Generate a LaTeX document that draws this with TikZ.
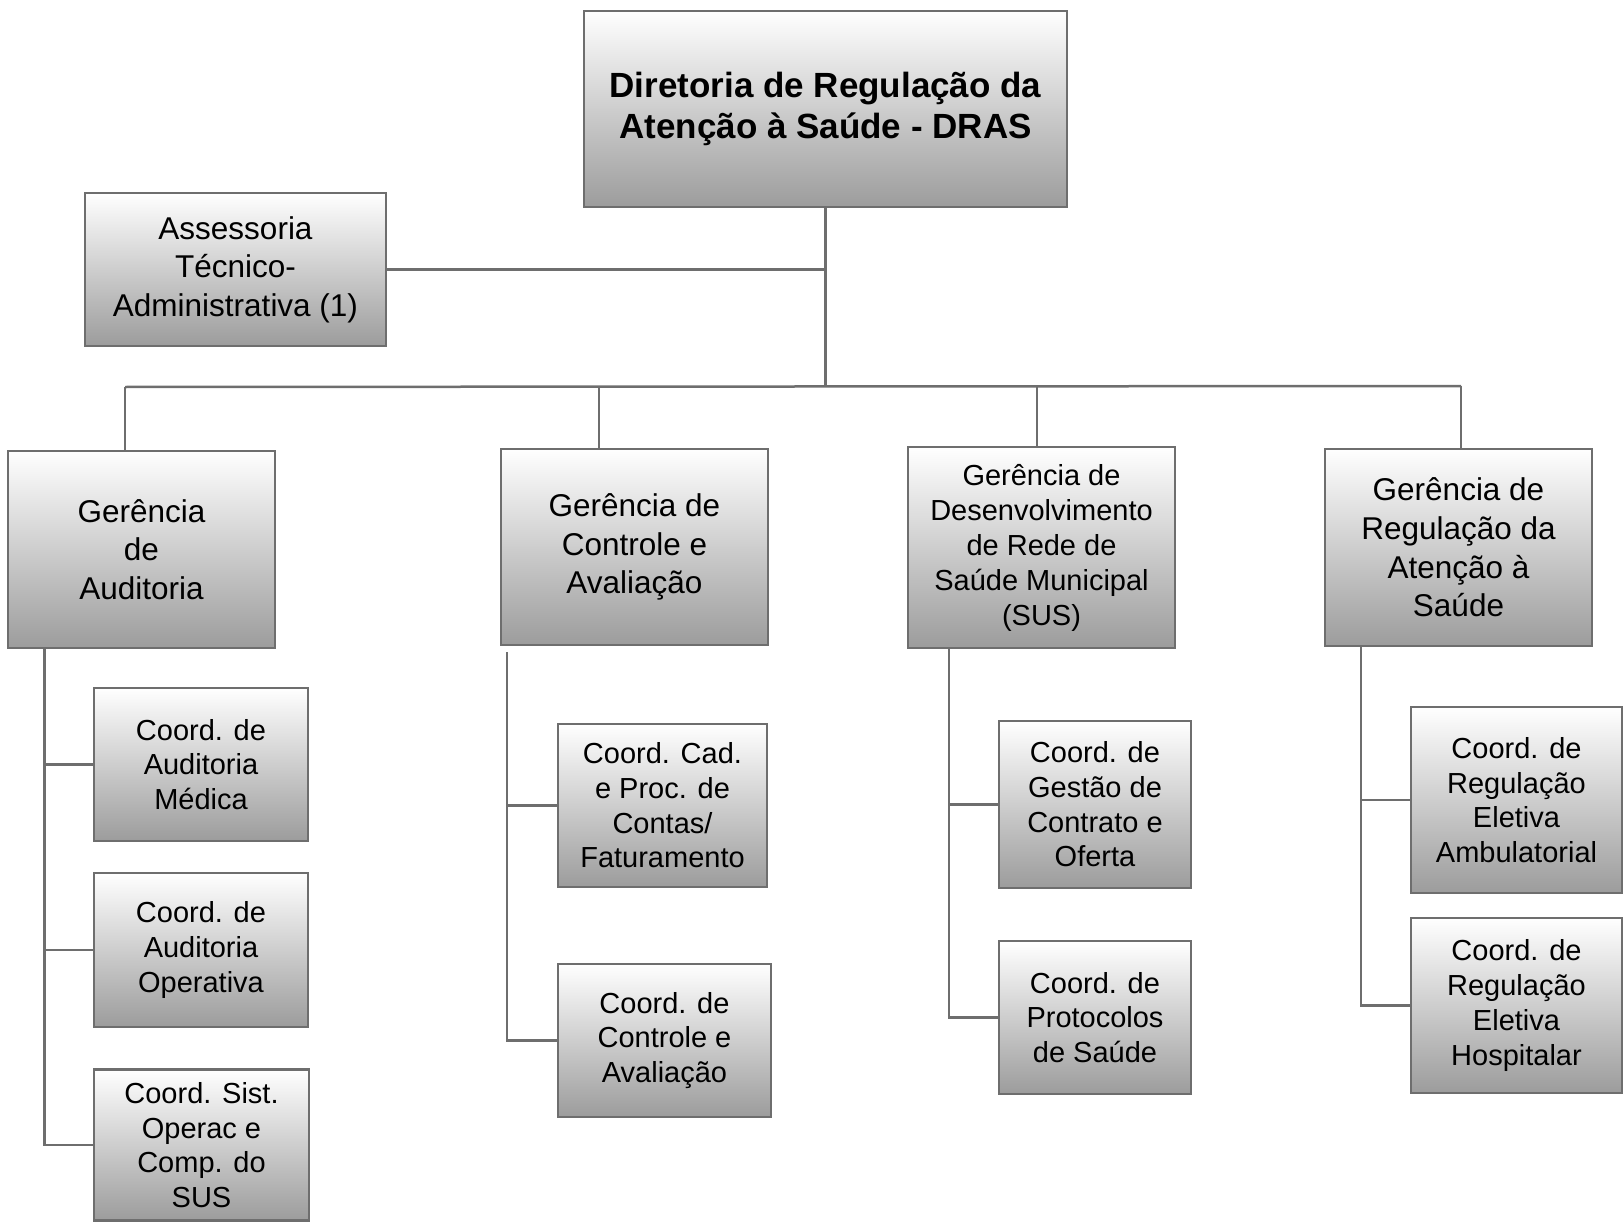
\documentclass[tikz,border=0pt]{standalone}
\usepackage{fontspec}
\setmainfont{Liberation Sans}
\definecolor{edge}{HTML}{6E6E6E}
\definecolor{boxbot}{HTML}{9C9C9C}
\tikzset{
  orgbox/.style={draw=edge, line width=2.5pt, top color=white, bottom color=boxbot,
     inner sep=0pt, align=center, text=black},
  lvlA/.style={orgbox, font=\fontsize{35}{41}\selectfont\bfseries},
  lvlB/.style={orgbox, font=\fontsize{31.5}{38.6}\selectfont},
  lvlBs/.style={orgbox, font=\fontsize{29}{35}\selectfont},
  lvlC/.style={orgbox, font=\fontsize{29}{34.7}\selectfont},
  wire/.style={draw=edge, line width=2.5pt}
}
\newcommand{\bx}[6]{\node[#1, minimum width=#4pt, minimum height=#5pt] (#2) at #3 {#6};}
\begin{document}
\begin{tikzpicture}[x=1pt,y=-1pt]
\useasboundingbox (0,0) rectangle (1623,1225);
\bx{lvlA}{dras}{(825.5,109)}{483}{196}{Diretoria de Regulação da\\Atenção à Saúde - DRAS}
\bx{lvlB}{ass}{(235.5,269.5)}{301}{153}{Assessoria\\Técnico-\\Administrativa (1)}
\bx{lvlB}{ga}{(141.5,549.5)}{267}{197}{Gerência\\de\\Auditoria}
\bx{lvlB}{gc}{(634.5,547)}{267}{196}{Gerência de\\Controle e\\Avaliação}
\bx{lvlBs}{gd}{(1041.5,547.5)}{267}{201}{Gerência de\\Desenvolvimento\\de Rede de\\Saúde Municipal\\(SUS)}
\bx{lvlB}{gr}{(1458.5,547.5)}{267}{197}{Gerência de\\Regulação da\\Atenção à\\Saúde}
\bx{lvlC}{c11}{(201,764.5)}{214}{153}{Coord. de\\Auditoria\\Médica}
\bx{lvlC}{c12}{(201,950)}{214}{154}{Coord. de\\Auditoria\\Operativa}
\bx{lvlC}{c13}{(201.5,1145)}{215}{151}{Coord. Sist.\\Operac e\\Comp. do\\SUS}
\bx{lvlC}{c21}{(662.5,805.5)}{209}{163}{Coord. Cad.\\e Proc. de\\Contas/\\Faturamento}
\bx{lvlC}{c22}{(664.5,1040.5)}{213}{153}{Coord. de\\Controle e\\Avaliação}
\bx{lvlC}{c31}{(1095,804.5)}{192}{167}{Coord. de\\Gestão de\\Contrato e\\Oferta}
\bx{lvlC}{c32}{(1095,1017.5)}{192}{153}{Coord. de\\Protocolos\\de Saúde}
\bx{lvlC}{c41}{(1516.5,800)}{211}{186}{Coord. de\\Regulação\\Eletiva\\Ambulatorial}
\bx{lvlC}{c42}{(1516.5,1005.5)}{211}{175}{Coord. de\\Regulação\\Eletiva\\Hospitalar}
% bus
\coordinate (busL) at (125,387);
\coordinate (busR) at (1461,386);
\coordinate (dB) at (599,387);
\coordinate (dC) at (1037,386);
\path[wire] (dras.south) -- (dras.south |- busL);
\path[wire] (ass.east) -- (ass.east -| dras.south);
\path[wire] (busL) -- (busR);
\path[wire] (busL) -- (busL |- ga.north);
\path[wire] (dB) -- (dB |- gc.north);
\path[wire] (dC) -- (dC |- gd.north);
\path[wire] (busR) -- (busR |- gr.north);
% trunks
\coordinate (tA) at (44.5,648);
\coordinate (tB) at (507,652);
\coordinate (tC) at (949,648);
\coordinate (tD) at (1361,646);
\path[wire] (tA) |- (c13.west);
\path[wire] (c11.west) -- (c11.west -| tA);
\path[wire] (c12.west) -- (c12.west -| tA);
\path[wire] (tB) |- (c22.west);
\path[wire] (c21.west) -- (c21.west -| tB);
\path[wire] (tC) |- (c32.west);
\path[wire] (c31.west) -- (c31.west -| tC);
\path[wire] (tD) |- (c42.west);
\path[wire] (c41.west) -- (c41.west -| tD);
\end{tikzpicture}
\end{document}
